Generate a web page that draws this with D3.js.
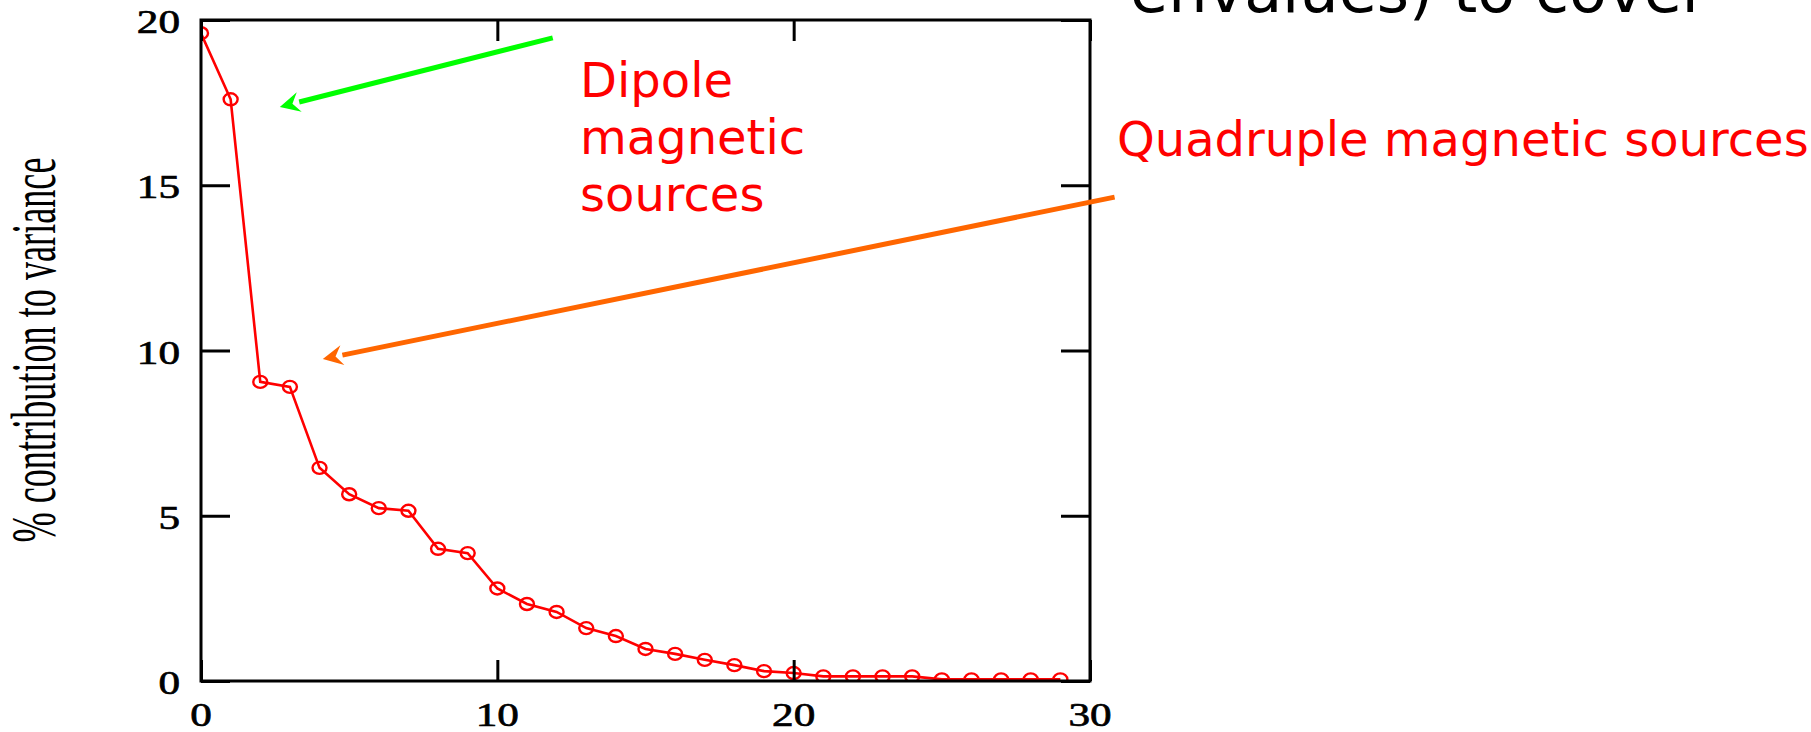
<!DOCTYPE html>
<html>
<head>
<meta charset="utf-8">
<script src="https://cdn.jsdelivr.net/npm/d3@7"></script>
<style>
  html, body { margin: 0; padding: 0; background: #ffffff; }
  svg { display: block; }
</style>
</head>
<body>
<div id="chart"></div>
<script>
// component index (x) and % contribution to variance (y)
const components = [0, 1, 2, 3, 4, 5, 6, 7, 8, 9, 10, 11, 12, 13, 14, 15, 16, 17, 18, 19, 20, 21, 22, 23, 24, 25, 26, 27, 28, 29];
const variancePct = [19.6, 17.6, 9.05, 8.9, 6.45, 5.65, 5.23, 5.15, 4.0, 3.87, 2.8, 2.33, 2.09, 1.6, 1.36, 0.97, 0.82, 0.64, 0.48, 0.3, 0.24, 0.14, 0.14, 0.14, 0.14, 0.05, 0.05, 0.05, 0.05, 0.05];

const xTicks = [0, 10, 20, 30];
const yTicks = [0, 5, 10, 15, 20];
const yLabel = "% contribution to variance";

// annotations: text lines and arrows (arrow ends in data units)
const dipoleLines = ["Dipole", "magnetic", "sources"];
const quadLabel = "Quadruple magnetic sources";
const topText = "envalues) to cover";
const arrows = [
  { from: [11.87, 19.46], to: [2.66, 17.37], color: "#00ff00" },
  { from: [30.83, 14.64], to: [4.11, 9.74], color: "#ff6600" }
];

const width = 1811, height = 732;
const plot = { left: 201, right: 1090, top: 20, bottom: 681 };

const svg = d3.select("#chart").append("svg")
  .attr("width", width)
  .attr("height", height)
  .attr("viewBox", `0 0 ${width} ${height}`);

const x = d3.scaleLinear().domain([0, 30]).range([plot.left, plot.right]);
const y = d3.scaleLinear().domain([0, 20]).range([plot.bottom, plot.top]);

// text of the slide behind the chart (cut by the top edge)
svg.append("text")
  .attr("x", 1130).attr("y", 12)
  .attr("font-family", "DejaVu Sans")
  .attr("font-size", 62)
  .attr("fill", "#000")
  .text(topText);

// clip for the data
svg.append("clipPath").attr("id", "plotclip")
  .append("rect")
  .attr("x", plot.left).attr("y", plot.top)
  .attr("width", plot.right - plot.left)
  .attr("height", plot.bottom - plot.top);

const data = components.map((c, i) => ({ c: c, v: variancePct[i] }));

const gData = svg.append("g").attr("clip-path", "url(#plotclip)");

gData.append("path")
  .datum(data)
  .attr("fill", "none")
  .attr("stroke", "#ff0000")
  .attr("stroke-width", 2.6)
  .attr("d", d3.line().x(d => x(d.c)).y(d => y(d.v)));

gData.selectAll(".mark")
  .data(data)
  .enter().append("ellipse")
  .attr("class", "mark")
  .attr("cx", d => x(d.c))
  .attr("cy", d => y(d.v))
  .attr("rx", 7)
  .attr("ry", 6)
  .attr("fill", "none")
  .attr("stroke", "#ff0000")
  .attr("stroke-width", 2.4);

// frame
svg.append("rect")
  .attr("x", plot.left).attr("y", plot.top)
  .attr("width", plot.right - plot.left)
  .attr("height", plot.bottom - plot.top)
  .attr("fill", "none")
  .attr("stroke", "#000")
  .attr("stroke-width", 3);

// inward ticks on all four sides
const axisBottom = d3.axisBottom(x).tickValues(xTicks).tickSize(-21).tickFormat("");
const axisTop = d3.axisTop(x).tickValues(xTicks).tickSize(-21).tickFormat("");
const axisLeft = d3.axisLeft(y).tickValues(yTicks).tickSize(-29).tickFormat("");
const axisRight = d3.axisRight(y).tickValues(yTicks).tickSize(-29).tickFormat("");

function styleAxis(g) {
  g.select(".domain").remove();
  g.selectAll(".tick line").attr("stroke", "#000").attr("stroke-width", 3);
}
svg.append("g").attr("transform", `translate(0,${plot.bottom})`).call(axisBottom).call(styleAxis);
svg.append("g").attr("transform", `translate(0,${plot.top})`).call(axisTop).call(styleAxis);
svg.append("g").attr("transform", `translate(${plot.left},0)`).call(axisLeft).call(styleAxis);
svg.append("g").attr("transform", `translate(${plot.right},0)`).call(axisRight).call(styleAxis);

// tick labels (stretched serif, like the pasted picture)
svg.selectAll(".ylab")
  .data(yTicks)
  .enter().append("text")
  .attr("class", "ylab")
  .attr("transform", d => `translate(180,${y(d) + 13}) scale(1.27,1)`)
  .attr("text-anchor", "end")
  .attr("font-family", "Liberation Serif")
  .attr("font-size", 34)
  .attr("fill", "#000")
  .attr("stroke", "#000")
  .attr("stroke-width", 0.7)
  .text(d => d);

svg.selectAll(".xlab")
  .data(xTicks)
  .enter().append("text")
  .attr("class", "xlab")
  .attr("transform", d => `translate(${x(d)},726) scale(1.27,1)`)
  .attr("text-anchor", "middle")
  .attr("font-family", "Liberation Serif")
  .attr("font-size", 34)
  .attr("fill", "#000")
  .attr("stroke", "#000")
  .attr("stroke-width", 0.7)
  .text(d => d);

// y axis title
svg.append("text")
  .attr("transform", "translate(55,350) rotate(-90) scale(1,1.85)")
  .attr("text-anchor", "middle")
  .attr("font-family", "Liberation Serif")
  .attr("font-size", 34)
  .attr("textLength", 385)
  .attr("lengthAdjust", "spacingAndGlyphs")
  .attr("fill", "#000")
  .text(yLabel);

// arrows
arrows.forEach(a => {
  const x1 = x(a.from[0]), y1 = y(a.from[1]);
  const x2 = x(a.to[0]), y2 = y(a.to[1]);
  const ang = Math.atan2(y2 - y1, x2 - x1);
  const headLen = 20, headW = 10;
  const bx = x2 - headLen * Math.cos(ang), by = y2 - headLen * Math.sin(ang);
  svg.append("line")
    .attr("x1", x1).attr("y1", y1)
    .attr("x2", bx).attr("y2", by)
    .attr("stroke", a.color)
    .attr("stroke-width", 5);
  const px = -Math.sin(ang) * headW, py = Math.cos(ang) * headW;
  svg.append("path")
    .attr("d", `M${x2},${y2}L${bx + px},${by + py}L${bx + 0.35 * headLen * Math.cos(ang)},${by + 0.35 * headLen * Math.sin(ang)}L${bx - px},${by - py}Z`)
    .attr("fill", a.color);
});

// red annotation texts
svg.selectAll(".dip")
  .data(dipoleLines)
  .enter().append("text")
  .attr("class", "dip")
  .attr("x", 580)
  .attr("y", (d, i) => 97 + i * 57)
  .attr("font-family", "DejaVu Sans")
  .attr("font-size", 48)
  .attr("fill", "#ff0000")
  .text(d => d);

svg.append("text")
  .attr("x", 1117).attr("y", 156)
  .attr("font-family", "DejaVu Sans")
  .attr("font-size", 48)
  .attr("fill", "#ff0000")
  .text(quadLabel);
</script>
</body>
</html>
